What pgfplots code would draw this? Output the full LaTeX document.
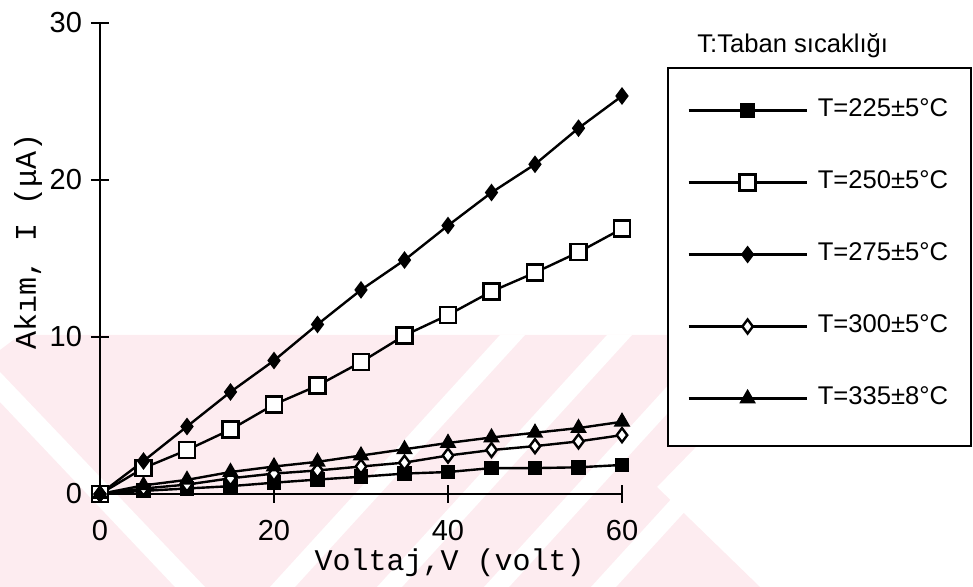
\documentclass[border=0pt]{standalone}
\usepackage{pgfplots}
\pgfplotsset{compat=1.18}
\usepackage{fontspec}
\setmainfont{Liberation Sans}
\newfontfamily\monofont{Liberation Mono}
\definecolor{wm}{RGB}{253,236,240}

\pgfplotstableread{
x s225 s250 s275 s300 s335
0  0    0    0     0    0
5  0.2  1.65 2.1   0.35 0.55
10 0.35 2.8  4.3   0.6  0.9
15 0.5  4.1  6.5   1.0  1.4
20 0.72 5.7  8.5   1.3  1.75
25 0.92 6.9  10.8  1.5  2.05
30 1.1  8.4  13.0  1.75 2.45
35 1.3  10.1 14.9  2.0  2.85
40 1.4  11.4 17.1  2.45 3.25
45 1.65 12.9 19.2  2.8  3.6
50 1.65 14.1 21.0  3.05 3.9
55 1.7  15.4 23.3  3.35 4.2
60 1.85 16.9 25.35 3.75 4.6
}\datatable

\begin{document}
\begin{tikzpicture}
\begin{scope}[shift={(-50pt,247pt)},x=0.5pt,y=-0.5pt]
\path[use as bounding box] (0,0) rectangle (973,587);
% faint watermark
\fill[wm] (20,335) -- (805,335) -- (657,487) -- (760,587) -- (0,587) -- (0,350) -- cycle;
\foreach \b in {270,377,484,591} {
  \fill[white] (\b,587) -- (\b+25,587) -- (\b+255,335) -- (\b+230,335) -- cycle;
}
\fill[white] (0,372) -- (0,402) -- (175,587) -- (205,587) -- cycle;
% legend frame and title
\draw[line width=1.2pt, fill=white] (668,68) rectangle (971,446);
\node[anchor=base west, inner sep=0pt, font=\fontsize{12.8}{14}\selectfont] at (697,53) {T:Taban sıcaklığı};
\end{scope}

\begin{axis}[
  at={(0pt,0pt)}, anchor=south west,
  scale only axis, width=261pt, height=235.5pt,
  xmin=0, xmax=60, ymin=0, ymax=30,
  clip=false,
  axis x line*=bottom, axis y line*=left,
  axis line style={line width=1.2pt},
  xtick={0,20,40,60}, ytick={0,10,20,30},
  tick align=center, major tick length=9pt,
  tick style={line width=1pt, black},
  /pgf/number format/assume math mode=true,
  ticklabel style={font=\fontsize{14.5}{16}\selectfont},
  xticklabel style={yshift=-5pt},
  yticklabel style={xshift=-1pt},
  xlabel={Voltaj,V (volt)},
  ylabel={Akım, I (μA)},
  xlabel style={font=\monofont\fontsize{15}{17}\selectfont, at={(axis description cs:0.670,-0.162)}, anchor=base},
  ylabel style={font=\monofont\fontsize{15}{17}\selectfont, at={(axis description cs:-0.1226,0.536)}, anchor=base, rotate=0},
  legend style={draw=none, fill=none, at={(axis description cs:1.113,0.849)}, anchor=north west,
    row sep=24pt, column sep=5pt,
    nodes={inner sep=0pt, text height=9pt, text depth=3pt, font=\fontsize{12.8}{14}\selectfont}},
  legend cell align=left,
  legend image code/.code={\draw[mark repeat=2,mark phase=2,#1] plot coordinates {(0pt,0pt)(29.5pt,0pt)(59pt,0pt)};},
  every axis plot/.append style={black, line width=1.2pt, mark options={solid, line width=0.8pt}},
]
\addplot[mark=square*, mark size=3.3pt] table[x=x,y=s225] {\datatable};
\addlegendentry{T=225±5°C}
\addplot[mark=square*, mark size=4pt, mark options={fill=white}] table[x=x,y=s250] {\datatable};
\addlegendentry{T=250±5°C}
\addplot[mark=diamond*, mark size=3.8pt] table[x=x,y=s275] {\datatable};
\addlegendentry{T=275±5°C}
\addplot[mark=diamond*, mark size=3.5pt, mark options={fill=white}] table[x=x,y=s300] {\datatable};
\addlegendentry{T=300±5°C}
\addplot[mark=triangle*, mark size=4pt] table[x=x,y=s335] {\datatable};
\addlegendentry{T=335±8°C}
\end{axis}
\end{tikzpicture}
\end{document}
